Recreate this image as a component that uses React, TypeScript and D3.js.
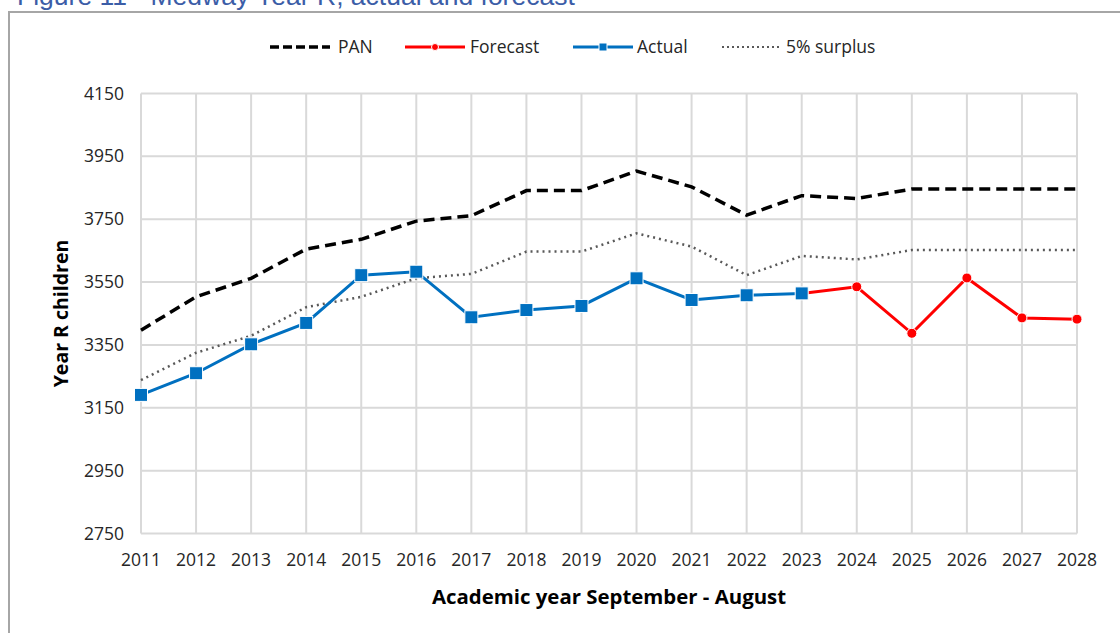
import React from "react";
import * as d3 from "d3";

const years = [2011, 2012, 2013, 2014, 2015, 2016, 2017, 2018, 2019, 2020, 2021, 2022, 2023, 2024, 2025, 2026, 2027, 2028];
const pan = [3397, 3503, 3562, 3655, 3686, 3744, 3761, 3841, 3841, 3903, 3853, 3763, 3825, 3816, 3846, 3846, 3846, 3846];
const surplus = [3238, 3325, 3379, 3470, 3503, 3562, 3576, 3647, 3647, 3705, 3663, 3572, 3633, 3622, 3652, 3652, 3652, 3652];
const actualYears = [2011, 2012, 2013, 2014, 2015, 2016, 2017, 2018, 2019, 2020, 2021, 2022, 2023];
const actual = [3191, 3260, 3352, 3420, 3572, 3583, 3438, 3461, 3474, 3562, 3493, 3508, 3514];
const forecastYears = [2023, 2024, 2025, 2026, 2027, 2028];
const forecast = [3514, 3535, 3387, 3563, 3436, 3432];
const yTicks = [2750, 2950, 3150, 3350, 3550, 3750, 3950, 4150];

const W = 1120;
const H = 633;
const plot = { left: 141, right: 1077, top: 93.5, bottom: 533.5 };
const font = "'Open Sans', 'Noto Sans', sans-serif";

export default function App() {
  const x = d3.scaleLinear().domain([2011, 2028]).range([plot.left, plot.right]);
  const y = d3.scaleLinear().domain([2750, 4150]).range([plot.bottom, plot.top]);

  const line = d3
    .line<[number, number]>()
    .x((d) => x(d[0]))
    .y((d) => y(d[1]));

  const panPts = years.map((yr, i) => [yr, pan[i]] as [number, number]);
  const surPts = years.map((yr, i) => [yr, surplus[i]] as [number, number]);
  const actPts = actualYears.map((yr, i) => [yr, actual[i]] as [number, number]);
  const fcPts = forecastYears.map((yr, i) => [yr, forecast[i]] as [number, number]);

  const legend = [
    { label: "PAN", x0: 270, tx: 338, kind: "pan" },
    { label: "Forecast", x0: 405, tx: 470, kind: "fc" },
    { label: "Actual", x0: 573, tx: 637, kind: "act" },
    { label: "5% surplus", x0: 722, tx: 786, kind: "sur" },
  ];

  return (
    <svg width={W} height={H} style={{ position: "absolute", left: 0, top: 0, background: "#fff" }}>
      {/* title, cut off at the top as in the source */}
      <text x={17} y={5} fill="#3B5DA7" fontFamily="'Liberation Sans', Arial, sans-serif" fontSize={26.5}>
        Figure 11 - Medway Year R, actual and forecast
      </text>
      {/* frame */}
      <rect x={9} y={12} width={W} height={H} fill="none" stroke="#A6A6A6" strokeWidth={2} />

      {/* grid */}
      {yTicks.map((t) => (
        <line key={"gy" + t} x1={plot.left} x2={plot.right} y1={y(t)} y2={y(t)} stroke="#D9D9D9" strokeWidth={2} />
      ))}
      {years.map((yr) => (
        <line key={"gx" + yr} x1={x(yr)} x2={x(yr)} y1={plot.top} y2={plot.bottom} stroke="#D9D9D9" strokeWidth={2} />
      ))}

      {/* axis labels */}
      {yTicks.map((t) => (
        <text key={"ty" + t} x={124} y={y(t)} dy="0.35em" textAnchor="end" fontFamily={font} fontSize={17.5} fill="#262626">
          {t}
        </text>
      ))}
      {years.map((yr) => (
        <text key={"tx" + yr} x={x(yr)} y={566} textAnchor="middle" fontFamily={font} fontSize={17.5} fill="#262626">
          {yr}
        </text>
      ))}
      <text
        transform={`translate(68,${(plot.top + plot.bottom) / 2}) rotate(-90)`}
        textAnchor="middle"
        fontFamily={font}
        fontWeight="bold"
        fontSize={19.5}
        fill="#000"
      >
        Year R children
      </text>
      <text x={(plot.left + plot.right) / 2} y={604} textAnchor="middle" fontFamily={font} fontWeight="bold" fontSize={20.4} fill="#000">
        Academic year September - August
      </text>

      {/* series */}
      <path d={line(surPts) || ""} fill="none" stroke="#595959" strokeWidth={2.5} strokeDasharray="2 4" />
      <path d={line(panPts) || ""} fill="none" stroke="#000" strokeWidth={3.5} strokeDasharray="11 6" />
      <path d={line(fcPts) || ""} fill="none" stroke="#FF0000" strokeWidth={3} />
      {fcPts.slice(1).map((d) => (
        <circle key={"fc" + d[0]} cx={x(d[0])} cy={y(d[1])} r={5} fill="#FF0000" stroke="#fff" strokeWidth={1} />
      ))}
      <path d={line(actPts) || ""} fill="none" stroke="#0070C0" strokeWidth={3} />
      {actPts.map((d) => (
        <rect key={"ac" + d[0]} x={x(d[0]) - 6.5} y={y(d[1]) - 6.5} width={13} height={13} fill="#0070C0" stroke="#fff" strokeWidth={1} />
      ))}

      {/* legend */}
      {legend.map((l) => {
        const ly = 47;
        const x1 = l.x0 + 60;
        const mid = (l.x0 + x1) / 2;
        return (
          <g key={l.label}>
            {l.kind === "pan" && <line x1={l.x0} x2={x1} y1={ly} y2={ly} stroke="#000" strokeWidth={3.5} strokeDasharray="9 4" />}
            {l.kind === "sur" && <line x1={l.x0} x2={x1} y1={ly} y2={ly} stroke="#595959" strokeWidth={2} strokeDasharray="2 3" />}
            {l.kind === "fc" && (
              <>
                <line x1={l.x0} x2={x1} y1={ly} y2={ly} stroke="#FF0000" strokeWidth={3} />
                <circle cx={mid} cy={ly} r={3.5} fill="#FF0000" stroke="#fff" strokeWidth={1} />
              </>
            )}
            {l.kind === "act" && (
              <>
                <line x1={l.x0} x2={x1} y1={ly} y2={ly} stroke="#0070C0" strokeWidth={3} />
                <rect x={mid - 4} y={ly - 4} width={8} height={8} fill="#0070C0" stroke="#fff" strokeWidth={1} />
              </>
            )}
            <text x={l.tx} y={ly} dy="0.35em" fontFamily={font} fontSize={17.5} fill="#262626">
              {l.label}
            </text>
          </g>
        );
      })}
    </svg>
  );
}
